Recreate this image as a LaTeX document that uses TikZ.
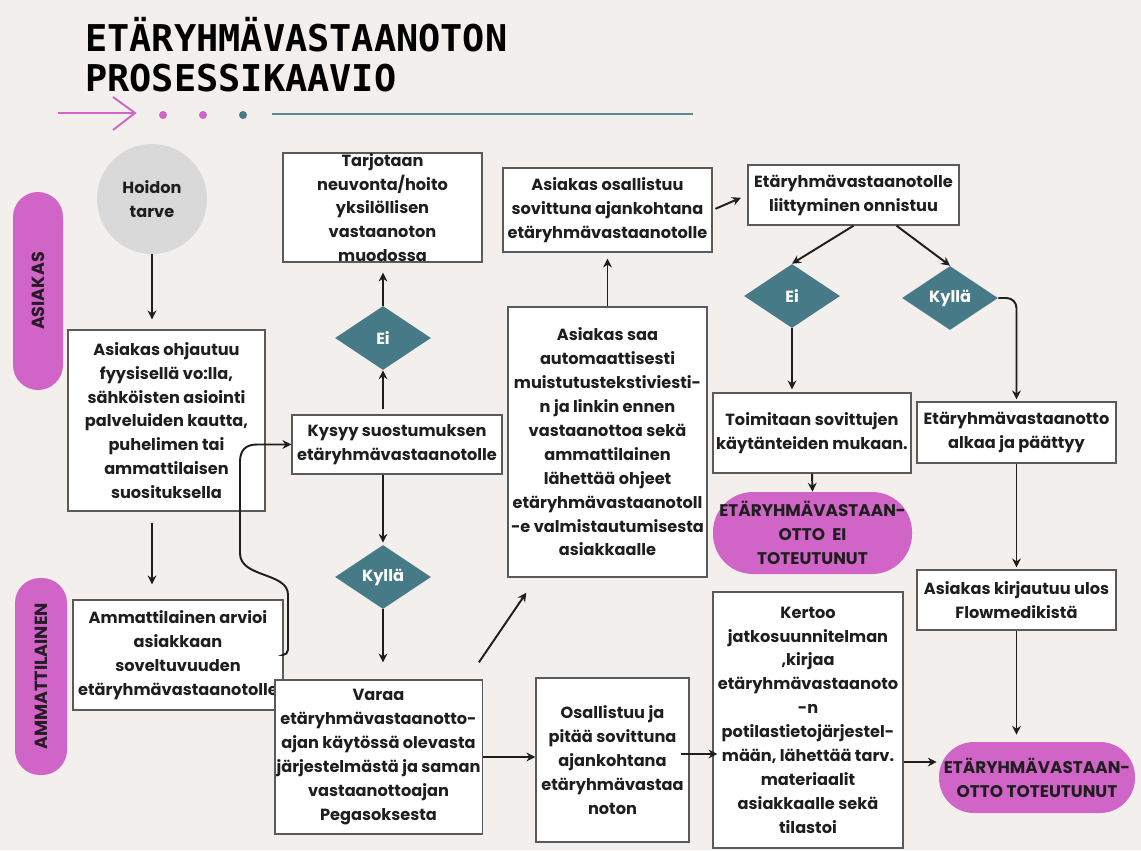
\documentclass[tikz,border=0pt]{standalone}
\usepackage{fontspec}
\setmainfont{Poppins}
\newfontfamily\titlefont{DejaVu Sans Mono}
\usepackage{tikz}
\usetikzlibrary{
    shapes.geometric,
    shapes.misc,
    arrows.meta,
    positioning,
    calc,
}
\usepackage{xcolor}
\definecolor{paperi}{HTML}{F3EFEC}
\definecolor{pinkki}{HTML}{D064C7}
\definecolor{petrooli}{HTML}{467A86}
\definecolor{harmaa}{HTML}{D9D9D9}
\definecolor{reuna}{HTML}{5A5A5A}
\definecolor{musta}{HTML}{1E1E1E}
\definecolor{viiva}{HTML}{5E8A94}
\newcommand{\laatikkofontti}{\fontsize{9.2}{13.6}\selectfont\bfseries}
\newcommand{\loppufontti}{\fontsize{9.6}{13.6}\selectfont\bfseries}
\newcommand{\kaistafontti}{\fontsize{10}{12}\selectfont\bfseries}
\newcommand{\otsikkofontti}{\titlefont\bfseries\fontsize{21}{22.7}\selectfont}

\begin{document}
\begin{tikzpicture}[
    x=0.02cm, y=-0.02cm,
    >=Stealth,
    boxsize/.style 2 args = {minimum width=#1*0.02cm, minimum height=#2*0.02cm},
    laatikko/.style = {rectangle, draw=reuna, line width=0.8pt, fill=white,
                       text=musta, align=center, inner sep=1pt,
                       font=\laatikkofontti},
    paatos/.style   = {diamond, fill=petrooli, text=white, inner sep=0pt,
                       minimum width=96*0.02cm, minimum height=64*0.02cm,
                       font=\laatikkofontti},
    loppu/.style    = {rectangle, rounded corners=0.8cm, fill=pinkki,
                       text=musta, align=center, inner sep=0pt,
                       font=\loppufontti},
    kaista/.style   = {rectangle, rounded corners=0.5cm, fill=pinkki,
                       text=musta!80!pinkki!60!black, rotate=90, inner sep=0pt,
                       font=\kaistafontti},
    nuoli/.style    = {-{Stealth[length=5pt, width=5pt]}, line width=1.1pt,
                       draw=musta},
]

%% ── Background and title ─────────────────────────────────────────────────────
\fill[paperi] (0,0) rectangle (1141,850);
\useasboundingbox (0,0) rectangle (1141,850);

\node[anchor=west, align=left, text=black, inner sep=0pt, font=\otsikkofontti]
    (otsikko) at (85,55) {ETÄRYHMÄVASTAANOTON\\PROSESSIKAAVIO};

\draw[pinkki, line width=1.1pt] (58,113) -- (135,113);
\draw[pinkki, line width=1.1pt] (113,97) -- (135,113) -- (113,130);
\fill[pinkki] (163,115) circle[radius=0.08cm];
\fill[pinkki] (203,115) circle[radius=0.08cm];
\fill[petrooli] (243,115) circle[radius=0.08cm];
\draw[viiva, line width=1.1pt] (272,114) -- (693,114);

%% ── Swimlanes ────────────────────────────────────────────────────────────────
\node[kaista, boxsize={198}{50}] (asiakas) at (38,291) {ASIAKAS};
\node[kaista, boxsize={197}{52}] (ammattilainen) at (41,676.5) {AMMATTILAINEN};

%% ── Nodes ────────────────────────────────────────────────────────────────────
\node[circle, fill=harmaa, text=musta, align=center, minimum size=110*0.02cm,
      font=\laatikkofontti] (hoito) at (152,199) {Hoidon\\tarve};

\node[laatikko, boxsize={197}{181}] (ohjaus) at (166.5,420.5)
    {Asiakas ohjautuu\\fyysisellä vo:lla,\\sähköisten asiointi\\palveluiden kautta,\\puhelimen tai\\ammattilaisen\\suosituksella};
\node[laatikko, boxsize={210}{110}] (arvio) at (178,655)
    {Ammattilainen arvioi\\asiakkaan\\soveltuvuuden\\etäryhmävastaanotolle};

\node[laatikko, boxsize={199}{109}, inner ysep=0pt] (tarjous) at (382.5,207.5)
    {Tarjotaan\\neuvonta/hoito\\yksilöllisen\\vastaanoton\\muodossa};
\node[paatos] (ei1) at (383,338) {Ei};
\node[laatikko, boxsize={210}{59}] (kysyy) at (397,444.5)
    {Kysyy suostumuksen\\etäryhmävastaanotolle};
\node[paatos] (kylla1) at (383,577) {Kyllä};
\node[laatikko, boxsize={207}{154}] (varaa) at (378.5,757)
    {Varaa\\etäryhmävastaanotto-\\ajan käytössä olevasta\\järjestelmästä ja saman\\vastaanottoajan\\Pegasoksesta};

\node[laatikko, boxsize={209}{84}] (osallistuu) at (607.5,210)
    {Asiakas osallistuu\\sovittuna ajankohtana\\etäryhmävastaanotolle};
\node[laatikko, boxsize={199}{270}] (saa) at (607.5,442)
    {Asiakas saa\\automaattisesti\\muistutustekstiviesti-\\n ja linkin ennen\\vastaanottoa sekä\\ammattilainen\\lähettää ohjeet\\etäryhmävastaanotoll\\-e valmistautumisesta\\asiakkaalle};
\node[laatikko, boxsize={153}{164}] (pitaa) at (612.5,760)
    {Osallistuu ja\\pitää sovittuna\\ajankohtana\\etäryhmävastaa\\noton};

\node[laatikko, boxsize={211}{60}] (liittyminen) at (853.5,195)
    {Etäryhmävastaanotolle\\liittyminen onnistuu};
\node[paatos] (ei2) at (792,296) {Ei};
\node[paatos] (kylla2) at (950,298) {Kyllä};
\node[laatikko, boxsize={198}{80}] (toimitaan) at (812,433)
    {Toimitaan sovittujen\\käytänteiden mukaan.};
\node[loppu, boxsize={199}{82}] (eitoteutunut) at (812.5,533)
    {ETÄRYHMÄVASTAAN-\\OTTO~~EI\\TOTEUTUNUT};
\node[laatikko, boxsize={190}{256}] (kertoo) at (808,720)
    {Kertoo\\jatkosuunnitelman\\,kirjaa\\etäryhmävastaanoto\\-n\\potilastietojärjestel-\\mään, lähettää tarv.\\materiaalit\\asiakkaalle sekä\\tilastoi};

\node[laatikko, boxsize={199}{61}] (alkaa) at (1016.5,432.5)
    {Etäryhmävastaanotto\\alkaa ja päättyy};
\node[laatikko, boxsize={199}{60}] (kirjautuu) at (1016.5,600)
    {Asiakas kirjautuu ulos\\Flowmedikistä};
\node[loppu, boxsize={196}{71}, rounded corners=0.7cm] (toteutunut) at (1037,777.5)
    {ETÄRYHMÄVASTAAN-\\OTTO TOTEUTUNUT};

%% ── Connectors ───────────────────────────────────────────────────────────────
\draw[nuoli, shorten >=0.2cm] (hoito.south) -- (hoito.south |- ohjaus.north);
\draw[nuoli, shorten <=0.22cm, shorten >=0.3cm]
    (hoito.south |- ohjaus.south) -- (hoito.south |- arvio.north);
\draw[nuoli, rounded corners=3pt] (arvio.east) -- (288,655) -- (288,600)
    .. controls (288,572) and (240,578) .. (240,548) -- (240,467)
    .. controls (240,450) and (246,444.5) .. (262,444.5) -- (kysyy.west);

\draw[nuoli, shorten <=0.1cm] (ei1 |- kysyy.north) -- (ei1.south);
\draw[nuoli, shorten >=0.2cm] (ei1.north) -- (ei1.north |- tarjous.south);
\draw[nuoli, shorten >=0.04cm] (ei1 |- kysyy.south) -- (kylla1.north);
\draw[nuoli, shorten >=0.34cm] (kylla1.south) -- (kylla1.south |- varaa.north);
\draw[nuoli] (varaa.east) -- (varaa.east -| pitaa.west);
\draw[nuoli] ($(varaa.north east)+(-4,-17)$) -- ($(saa.south west)+(19,15)$);

\draw[nuoli, shorten >=0.12cm] (saa.north) -- (osallistuu.south);
\draw[nuoli, shorten <=0.06cm, shorten >=0.14cm] (osallistuu.east) -- (liittyminen.west);
\draw[nuoli] (liittyminen.south) -- (ei2.north);
\draw[nuoli] ($(liittyminen.south)+(43,0)$) -- (kylla2.north);
\draw[nuoli, shorten >=0.06cm] (ei2.south) -- (ei2.south |- toimitaan.north);
\draw[nuoli, rounded corners=0.2cm, shorten >=0.04cm] (kylla2.east) -| (alkaa.north);
\draw[nuoli] (toimitaan.south) -- (eitoteutunut.north);
\draw[nuoli, shorten >=0.04cm] (alkaa.south) -- (kirjautuu.north);
\draw[nuoli, shorten >=0.14cm] (kirjautuu.south) -- (kirjautuu.south |- toteutunut.north);

\coordinate (p1) at ($(pitaa.east)+(-9,-6)$);
\draw[nuoli, shorten >=-0.1cm] (p1) -- (p1 -| kertoo.west);
\coordinate (q1) at ($(kertoo.east)+(0,42)$);
\draw[nuoli, shorten >=0.04cm] (q1) -- (q1 -| toteutunut.west);

\end{tikzpicture}
\end{document}
